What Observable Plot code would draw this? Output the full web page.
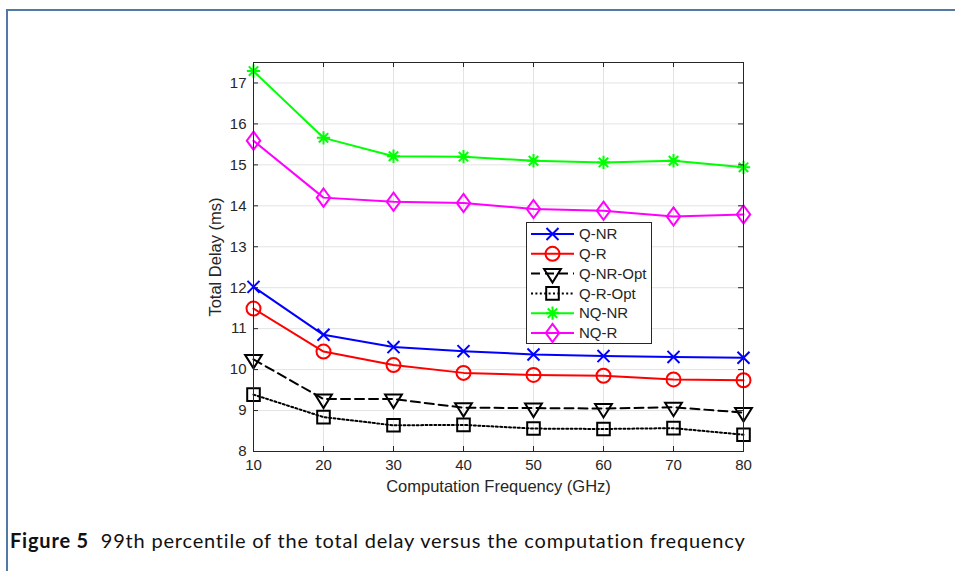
<!DOCTYPE html>
<html>
<head>
<meta charset="utf-8">
<script src="https://cdn.jsdelivr.net/npm/d3@7"></script>
<script src="https://cdn.jsdelivr.net/npm/@observablehq/plot@0.6"></script>
<style>
  html, body { margin: 0; padding: 0; background: #fff; }
  #page { position: relative; width: 955px; height: 571px; overflow: hidden; }
  #frame { position: absolute; left: 6px; top: 9px; width: 960px; height: 600px;
           border-top: 2px solid #5279a5; border-left: 2px solid #5279a5; box-sizing: border-box; }
  #chart { position: absolute; left: 0; top: 0; }
  #legend { position: absolute; left: 526px; top: 222px; }
  #caption { position: absolute; left: 10px; top: 528px; font-family: Lato, "Liberation Sans", sans-serif;
             font-size: 20px; letter-spacing: 0.8px; color: #111; white-space: nowrap; }
  #caption b { font-weight: 700; }
</style>
</head>
<body>
<div id="page">
  <div id="frame"></div>
  <div id="chart"></div>
  <div id="legend"></div>
  <div id="caption"><b>Figure 5</b>&nbsp; 99th percentile of the total delay versus the computation frequency</div>
</div>
<script>
// ---- data ----
const freqs = [10, 20, 30, 40, 50, 60, 70, 80];
const seriesNames = ["Q-NR", "Q-R", "Q-NR-Opt", "Q-R-Opt", "NQ-NR", "NQ-R"];
const qNR    = [12.02, 10.85, 10.55, 10.45, 10.37, 10.33, 10.31, 10.29];
const qR     = [11.49, 10.44, 10.11, 9.92, 9.87, 9.85, 9.76, 9.74];
const qNROpt = [10.25, 9.28, 9.28, 9.07, 9.06, 9.05, 9.08, 8.95];
const qROpt  = [9.39, 8.84, 8.64, 8.65, 8.56, 8.55, 8.57, 8.41];
const nqNR   = [17.29, 15.66, 15.21, 15.20, 15.10, 15.06, 15.10, 14.94];
const nqR    = [15.59, 14.20, 14.10, 14.07, 13.92, 13.88, 13.74, 13.79];
const xTicks = [10, 20, 30, 40, 50, 60, 70, 80];
const yTicks = [8, 9, 10, 11, 12, 13, 14, 15, 16, 17];
const xLabel = "Computation Frequency (GHz)";
const yLabel = "Total Delay (ms)";

// ---- styles ----
const colors = {"Q-NR": "#0000ff", "Q-R": "#ff0000", "Q-NR-Opt": "#000000", "Q-R-Opt": "#000000", "NQ-NR": "#00ff00", "NQ-R": "#ff00ff"};
const dashes = {"Q-NR": null, "Q-R": null, "Q-NR-Opt": "9,5", "Q-R-Opt": "2,2.4", "NQ-NR": null, "NQ-R": null};

const symTimes = {draw(c, s) { const r = Math.sqrt(s / Math.PI) * 0.86; c.moveTo(-r, -r); c.lineTo(r, r); c.moveTo(-r, r); c.lineTo(r, -r); }};
const symCircle = {draw(c, s) { const r = Math.sqrt(s / Math.PI); c.moveTo(r, 0); c.arc(0, 0, r, 0, 2 * Math.PI); c.closePath(); }};
const symTriDown = {draw(c, s) { const r = Math.sqrt(s / Math.PI); const w = r * 1.2, t = r * 0.64, b = r * 1.28; c.moveTo(-w, -t); c.lineTo(w, -t); c.lineTo(0, b); c.closePath(); }};
const symSquare = {draw(c, s) { const r = Math.sqrt(s / Math.PI) * 0.9; c.moveTo(-r, -r); c.lineTo(r, -r); c.lineTo(r, r); c.lineTo(-r, r); c.closePath(); }};
const symAster = {draw(c, s) { const r = Math.sqrt(s / Math.PI) * 0.95; const d = r * Math.SQRT1_2;
  c.moveTo(-r, 0); c.lineTo(r, 0); c.moveTo(0, -r); c.lineTo(0, r);
  c.moveTo(-d, -d); c.lineTo(d, d); c.moveTo(-d, d); c.lineTo(d, -d); }};
const symDiamond = {draw(c, s) { const r = Math.sqrt(s / Math.PI); const w = r * 0.96, h = r * 1.3; c.moveTo(0, -h); c.lineTo(w, 0); c.lineTo(0, h); c.lineTo(-w, 0); c.closePath(); }};
const symbols = {"Q-NR": symTimes, "Q-R": symCircle, "Q-NR-Opt": symTriDown, "Q-R-Opt": symSquare, "NQ-NR": symAster, "NQ-R": symDiamond};

const values = {"Q-NR": qNR, "Q-R": qR, "Q-NR-Opt": qNROpt, "Q-R-Opt": qROpt, "NQ-NR": nqNR, "NQ-R": nqR};
const rows = seriesNames.flatMap(name => freqs.map((f, i) => ({series: name, x: f, y: values[name][i]})));

// ---- layout ----
const W = 955, H = 500;
const mL = 253, mR = 212, mT = 62, mB = 49;
const plotW = W - mL - mR, plotH = H - mT - mB;
const axisColor = "#262626";
const font = "'Liberation Sans', Arial, Helvetica, sans-serif";

const marks = [
  Plot.gridX(xTicks, {stroke: "#e3e3e3", strokeOpacity: 1, strokeWidth: 1}),
  Plot.gridY(yTicks, {stroke: "#e3e3e3", strokeOpacity: 1, strokeWidth: 1}),
];
for (const name of seriesNames) {
  const d = rows.filter(r => r.series === name);
  marks.push(Plot.line(d, {x: "x", y: "y", stroke: colors[name], strokeWidth: 2, strokeDasharray: dashes[name]}));
  marks.push(Plot.dot(d, {x: "x", y: "y", symbol: () => symbols[name], r: 7, stroke: colors[name], fill: "none", strokeWidth: 2}));
}
marks.push(
  Plot.frame({stroke: axisColor, strokeWidth: 1}),
  Plot.ruleX(xTicks, {stroke: axisColor, insetTop: plotH - 5}),
  Plot.ruleX(xTicks, {stroke: axisColor, insetBottom: plotH - 5}),
  Plot.ruleY(yTicks, {stroke: axisColor, insetRight: plotW - 5}),
  Plot.ruleY(yTicks, {stroke: axisColor, insetLeft: plotW - 5}),
  Plot.axisX(xTicks, {tickSize: 0, tickPadding: 8, fontSize: 15, color: axisColor, label: null}),
  Plot.axisY(yTicks, {tickSize: 0, tickPadding: 7, fontSize: 15, color: axisColor, label: null}),
  Plot.text([xLabel], {frameAnchor: "bottom", dy: 40, fontSize: 16.5, fill: axisColor, textAnchor: "middle"}),
  Plot.text([yLabel], {frameAnchor: "left", dx: -37.5, rotate: -90, fontSize: 16.5, fill: axisColor, textAnchor: "middle"})
);

const chart = Plot.plot({
  width: W, height: H,
  marginLeft: mL, marginRight: mR, marginTop: mT, marginBottom: mB,
  style: {fontFamily: font, fontSize: "15px", background: "transparent", color: axisColor},
  x: {domain: [10, 80], ticks: xTicks},
  y: {domain: [8, 17.5], ticks: yTicks},
  symbol: {type: "identity"},
  marks
});
document.getElementById("chart").appendChild(chart);

// ---- legend ----
const lw = 126, lh = 122, rowH = 19.8, y0 = 12;
const svg = d3.select("#legend").append("svg").attr("width", lw).attr("height", lh).style("font-family", font);
svg.append("rect").attr("x", 0.5).attr("y", 0.5).attr("width", lw - 1).attr("height", lh - 1).attr("fill", "#fff").attr("stroke", axisColor).attr("stroke-width", 1);
seriesNames.forEach((name, i) => {
  const cy = y0 + i * rowH;
  const g = svg.append("g");
  g.append("line").attr("x1", 5).attr("x2", 48).attr("y1", cy).attr("y2", cy)
    .attr("stroke", colors[name]).attr("stroke-width", 2).attr("stroke-dasharray", dashes[name]);
  g.append("path").attr("transform", `translate(26.5,${cy})`).attr("d", d3.symbol(symbols[name], Math.PI * 49)())
    .attr("fill", "none").attr("stroke", colors[name]).attr("stroke-width", 2);
  g.append("text").attr("x", 53).attr("y", cy).attr("dy", "0.35em").attr("font-size", 15).attr("fill", axisColor).text(name);
});
</script>
</body>
</html>
